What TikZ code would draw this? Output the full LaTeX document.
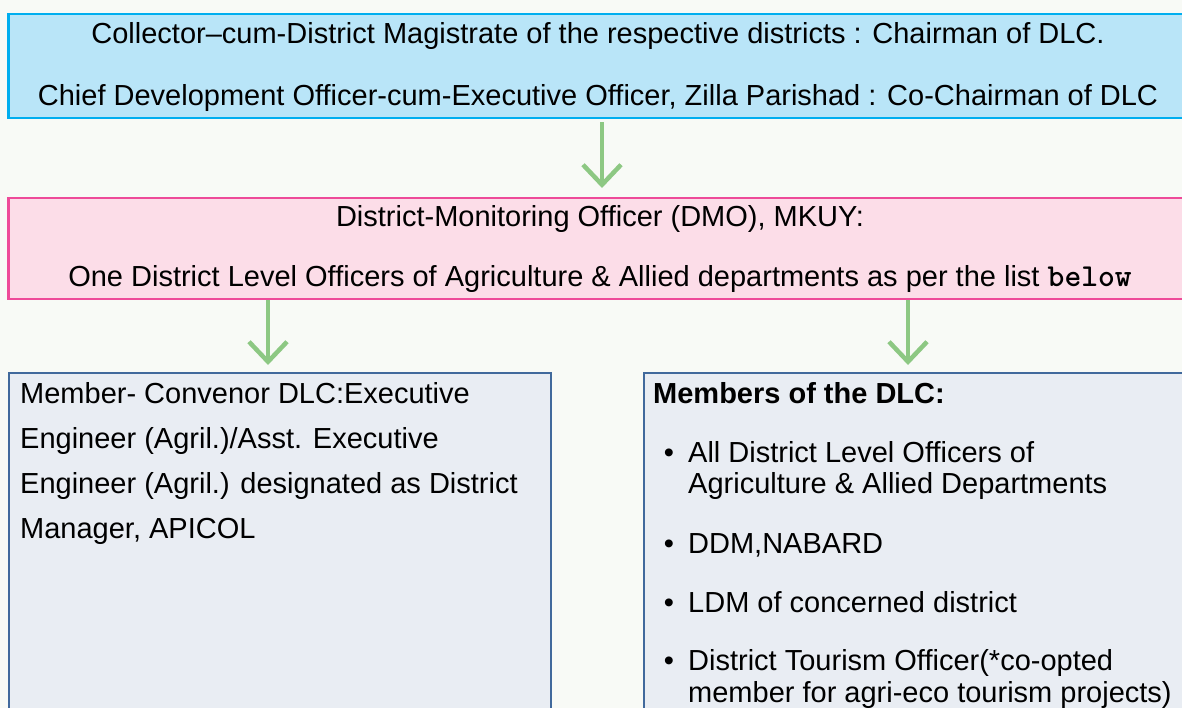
\documentclass[tikz,border=0pt]{standalone}
\usepackage{fontspec}
\setmainfont{Liberation Sans}
\usetikzlibrary{arrows.meta}
\definecolor{bgc}{HTML}{F8FAF6}
\definecolor{topfill}{HTML}{B9E5F8}
\definecolor{topline}{HTML}{00AEEF}
\definecolor{pinkfill}{HTML}{FCDDE8}
\definecolor{pinkline}{HTML}{EE4A99}
\definecolor{boxfill}{HTML}{E9EDF3}
\definecolor{boxline}{HTML}{41699C}
\definecolor{arrgreen}{HTML}{8DC883}
\tikzset{
  topbox/.style={draw=topline, fill=topfill, line width=2.5pt, inner sep=0pt},
  pinkbox/.style={draw=pinkline, fill=pinkfill, line width=2.5pt, inner sep=0pt},
  lowbox/.style={draw=boxline, fill=boxfill, line width=2pt, inner sep=0pt},
  txt/.style={inner sep=0pt, font=\fontsize{29}{34}\selectfont},
  arr/.style={draw=arrgreen, line width=4.5pt, -{Straight Barb[length=20pt,width=38pt]}}
}
\begin{document}
\begin{tikzpicture}[x=1pt,y=-1pt]
\path[use as bounding box, fill=bgc] (0,0) rectangle (1182,708);
\begin{scope}
\clip (0,0) rectangle (1182,708);
% boxes
\node[topbox, anchor=north west, minimum width=1200pt, minimum height=104pt] (top) at (7,13) {};
\node[pinkbox, anchor=north west, minimum width=1200pt, minimum height=101pt] (pink) at (7,197) {};
\node[lowbox, anchor=north west, minimum width=542pt, minimum height=360pt] (left) at (8,372) {};
\node[lowbox, anchor=north west, minimum width=560pt, minimum height=360pt] (right) at (643,372) {};
% texts top
\node[txt, anchor=base] (t1) at (598,44) {Collector–cum-District Magistrate of the respective districts : Chairman of DLC.};
\node[txt, anchor=base] (t2) at (598,106) {Chief Development Officer-cum-Executive Officer, Zilla Parishad : Co-Chairman of DLC};
% texts pink
\node[txt, anchor=base] (p1) at (600,227) {District-Monitoring Officer (DMO), MKUY:};
\node[txt, anchor=base] (p2) at (600,287) {One District Level Officers of Agriculture \& Allied departments as per the list {\fontsize{32}{34}\ttfamily\bfseries below}};
% left box
\node[txt, anchor=base west] (l1) at (20,403) {Member- Convenor DLC:Executive};
\node[txt, anchor=base west] (l2) at (20,448) {Engineer (Agril.)/Asst. Executive};
\node[txt, anchor=base west] (l3) at (20,493) {Engineer (Agril.) designated as District};
\node[txt, anchor=base west] (l4) at (20,538) {Manager, APICOL};
% right box
\node[txt, anchor=base west, font=\fontsize{29}{34}\selectfont\bfseries] (r0) at (653,403) {Members of the DLC:};
\node[txt, anchor=base] (b1) at (669,462) {•};
\node[txt, anchor=base west] (r1a) at (688,462) {All District Level Officers of};
\node[txt, anchor=base west] (r1b) at (688,493) {Agriculture \& Allied Departments};
\node[txt, anchor=base] (b2) at (669,553) {•};
\node[txt, anchor=base west] (r2) at (688,553) {DDM,NABARD};
\node[txt, anchor=base] (b3) at (669,612) {•};
\node[txt, anchor=base west] (r3) at (688,612) {LDM of concerned district};
\node[txt, anchor=base] (b4) at (669,670) {•};
\node[txt, anchor=base west] (r4a) at (688,670) {District Tourism Officer(*co-opted};
\node[txt, anchor=base west] (r4b) at (688,702) {member for agri-eco tourism projects)};
% arrows
\coordinate (x1) at (602,0);
\coordinate (x2) at (268,0);
\coordinate (x3) at (908,0);
\draw[arr, shorten <=3pt, shorten >=9pt] (top.south -| x1) -- (pink.north -| x1);
\draw[arr, shorten >=7pt] (pink.south -| x2) -- (left.north -| x2);
\draw[arr, shorten >=7pt] (pink.south -| x3) -- (right.north -| x3);
\end{scope}
\end{tikzpicture}
\end{document}
